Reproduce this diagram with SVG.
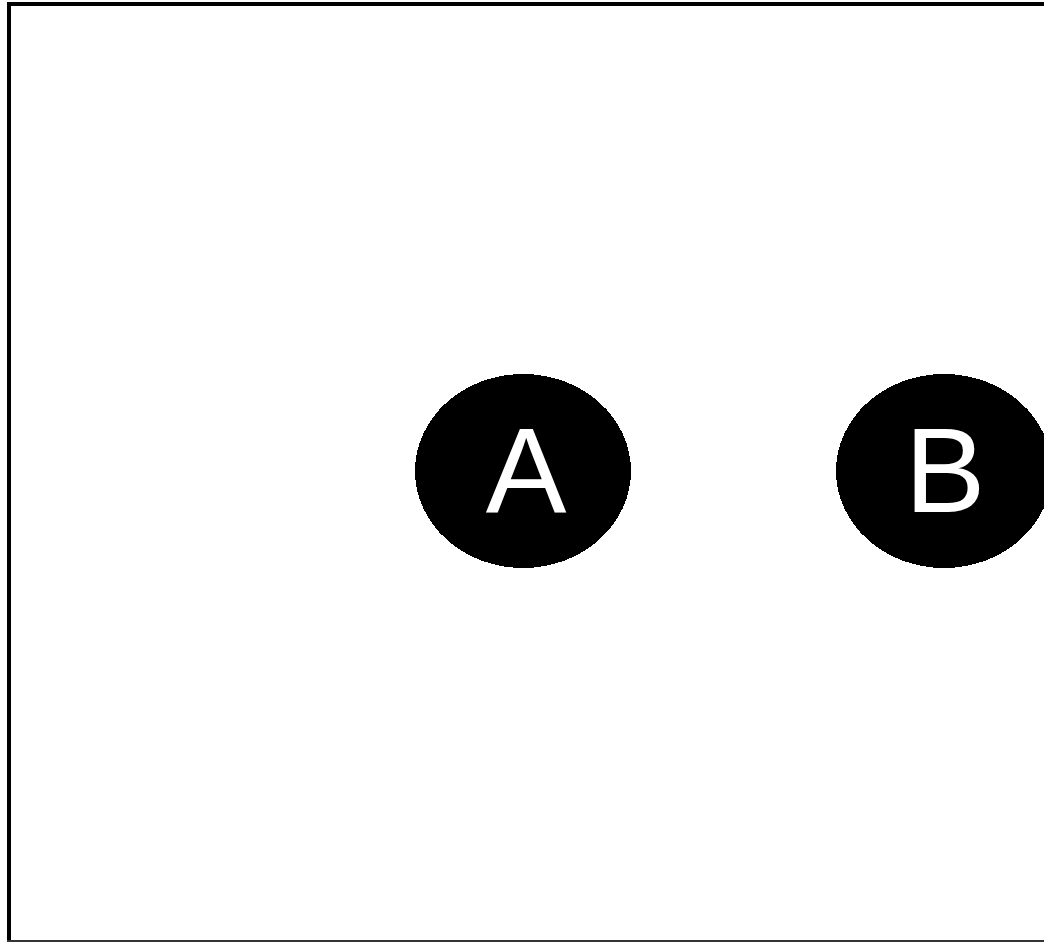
<svg xmlns="http://www.w3.org/2000/svg" width="1044" height="942" viewBox="0 0 1044 942">
<style>
.node ellipse{fill:#000;shape-rendering:crispEdges}
.node text{fill:#fff;font-family:"Liberation Sans",Arial,sans-serif;font-size:121px;text-anchor:middle}
</style>
<rect width="1044" height="942" fill="#fff"/>
<g id="frame" shape-rendering="crispEdges">
<rect x="7" y="2" width="1037" height="4" fill="#000"/>
<rect x="7" y="2" width="4" height="939" fill="#000"/>
<rect x="7" y="940" width="1037" height="1.5" fill="#333"/>
</g>
<g id="connectors"></g>
<g id="node-A" class="node">
<ellipse cx="523" cy="471" rx="108" ry="97"/>
<text x="526" y="512">A</text>
</g>
<g id="node-B" class="node">
<ellipse cx="944" cy="471" rx="108" ry="97"/>
<text x="945" y="512">B</text>
</g>
</svg>
